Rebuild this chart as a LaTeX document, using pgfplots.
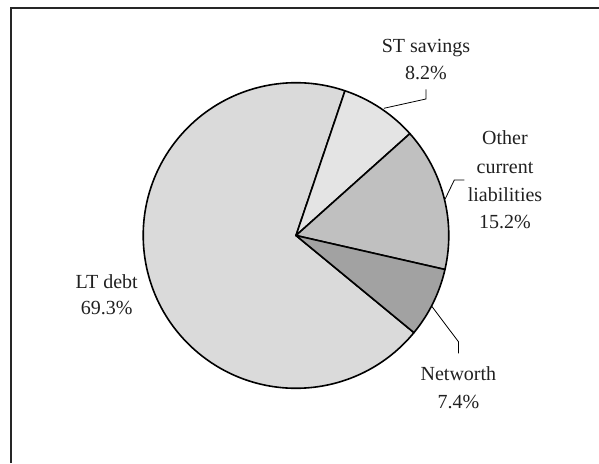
\documentclass[border=0pt]{standalone}
\usepackage{pgfplots}
\usepackage{pgfplotstable}
\pgfplotsset{compat=1.18}
\usepackage{fontspec}
\setmainfont{Liberation Serif}
\definecolor{ltcol}{HTML}{DADADA}
\definecolor{stcol}{HTML}{E4E4E4}
\definecolor{otcol}{HTML}{C0C0C0}
\definecolor{nwcol}{HTML}{A2A2A2}
\definecolor{txtcol}{HTML}{202020}
\pgfplotstableread{
name value
ST 8.2
Other 15.2
Net 7.4
LT 69.3
}\piedata
\pgfplotstablegetelem{0}{value}\of\piedata \let\vA\pgfplotsretval
\pgfplotstablegetelem{1}{value}\of\piedata \let\vB\pgfplotsretval
\pgfplotstablegetelem{2}{value}\of\piedata \let\vC\pgfplotsretval
\pgfplotstablegetelem{3}{value}\of\piedata \let\vD\pgfplotsretval
\pgfmathsetmacro\tot{\vA+\vB+\vC+\vD}
\pgfmathsetmacro\aS{71.3}
\pgfmathsetmacro\aA{\aS-\vA/\tot*360}
\pgfmathsetmacro\aB{\aA-\vB/\tot*360}
\pgfmathsetmacro\aC{\aB-\vC/\tot*360}
\pgfmathsetmacro\aD{\aC-\vD/\tot*360}
\newcommand\slice[3]{\filldraw[fill=#3, draw=black, line width=1.6pt, line join=round] (axis cs:296,227.5) -- ++(#1:152.8pt) arc[start angle=#1, end angle=#2, radius=152.8pt] -- cycle;}
\begin{document}%
\begin{tikzpicture}
\begin{axis}[x=1pt, y=1pt, xmin=0, xmax=599, ymin=0, ymax=463, hide axis, clip=false]
\coordinate (LL) at (axis cs:0,0);
\coordinate (UR) at (axis cs:599,463);
% chart frame
\draw[line width=1.8pt, color=black!85] (axis cs:11,0) -- (axis cs:11,455) -- (axis cs:599,455);
% slices
\slice{\aC}{\aD}{ltcol}
\slice{\aS}{\aA}{stcol}
\slice{\aA}{\aB}{otcol}
\slice{\aB}{\aC}{nwcol}
% leader lines
\draw[line width=0.8pt, black] (axis cs:383.9,354.7) -- (axis cs:425.9,364) -- (axis cs:425.9,373.7);
\draw[line width=0.8pt, black] (axis cs:445,263.7) -- (axis cs:454.3,283) -- (axis cs:464.3,283);
\draw[line width=0.8pt, black] (axis cs:431.6,157) -- (axis cs:458.4,121.3) -- (axis cs:458.4,109.7);
% labels
\tikzset{lab/.style={anchor=base, inner sep=0pt, text=txtcol, font=\fontsize{20}{24}\selectfont}}
\node[lab] at (axis cs:426,410.3) {ST savings};
\node[lab] at (axis cs:426,383.7) {8.2\%};
\node[lab] at (axis cs:505,318) {Other};
\node[lab] at (axis cs:505,289.7) {current};
\node[lab] at (axis cs:505,261.3) {liabilities};
\node[lab] at (axis cs:505,234.7) {15.2\%};
\node[lab] at (axis cs:106.7,174.7) {LT debt};
\node[lab] at (axis cs:106.7,148) {69.3\%};
\node[lab] at (axis cs:458.4,83) {Networth};
\node[lab] at (axis cs:458.4,54.7) {7.4\%};
\end{axis}
\pgfresetboundingbox
\useasboundingbox (LL) rectangle (UR);
\end{tikzpicture}%
\end{document}
